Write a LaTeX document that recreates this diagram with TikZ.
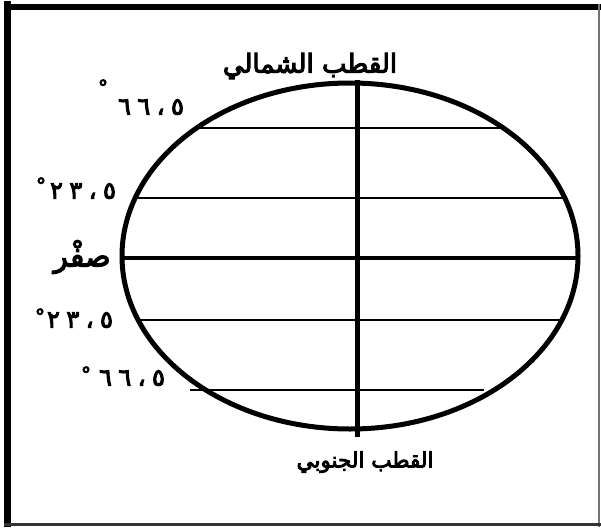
\documentclass[tikz,border=0pt]{standalone}
\usepackage{fontspec}
\newfontfamily\arabicfont[Script=Arabic,FakeBold=4]{DejaVu Sans}
\TeXXeTstate=1
\newcommand{\dgap}{\hspace{6.5pt}}
\begin{document}
\begin{tikzpicture}[x=1pt,y=-1pt,
  lat/.style={line width=2.5pt},
  lbl/.style={inner sep=0pt,font=\arabicfont\fontsize{24}{26}\selectfont},
  zero/.style={inner sep=0pt,font=\arabicfont\fontsize{30}{32}\selectfont},
  pole/.style={inner sep=0pt,font=\arabicfont\fontsize{26}{28}\selectfont},
  spole/.style={inner sep=0pt,font=\arabicfont\fontsize{21.5}{24}\selectfont},
  deg/.style={inner sep=0pt,font=\arabicfont\fontsize{20}{20}\selectfont}]
\useasboundingbox (0,0) rectangle (601,527);
\fill[white] (0,0) rectangle (601,527);
% frame
\draw[line width=7pt] (7.5,1) -- (7.5,527);
\draw[line width=6pt] (4,7) -- (601,7);
\draw[line width=2pt,black!55] (599,4) -- (599,527);
\draw[line width=3pt,black!80] (4,524.5) -- (601,524.5);
% globe
\draw[line width=5pt] (350,256) ellipse [x radius=228,y radius=173];
\coordinate (n66a) at (197,128); \coordinate (n66b) at (500,128);
\coordinate (n23a) at (135,198); \coordinate (n23b) at (566,198);
\coordinate (eqa) at (122,258);  \coordinate (eqb) at (578,258);
\coordinate (s23a) at (138,320); \coordinate (s23b) at (563,320);
\coordinate (s66a) at (190,390); \coordinate (s66b) at (484,390);
\coordinate (axt) at (357,80);   \coordinate (axb) at (357,437);
\draw[lat] (n66a) -- (n66b);
\draw[lat] (n23a) -- (n23b);
\draw[line width=4pt] (eqa) -- (eqb);
\draw[lat] (s23a) -- (s23b);
\draw[lat] (s66a) -- (s66b);
\draw[line width=5pt] (axt) -- (axb);
% labels
\node[pole] (north) at (310,66) {\beginR القطب الشمالي\endR};
\node[spole] (south) at (365,462) {\beginR القطب الجنوبي\endR};
\node[lbl] (l1) at (151,107) {٦\dgap٦\dgap،\dgap٥};
\node[deg] (d1) at (103,87) {°};
\node[lbl] (l2) at (83,191) {٢\dgap٣\dgap،\dgap٥};
\node[deg] (d2) at (41,185) {°};
\node[zero] (l3) at (82,257) {\beginR صفْر\endR};
\node[lbl] (l4) at (80,320) {٢\dgap٣\dgap،\dgap٥};
\node[deg] (d4) at (40,316) {°};
\node[lbl] (l5) at (132,378) {٦\dgap٦\dgap،\dgap٥};
\node[deg] (d5) at (86,374) {°};
\end{tikzpicture}
\end{document}
